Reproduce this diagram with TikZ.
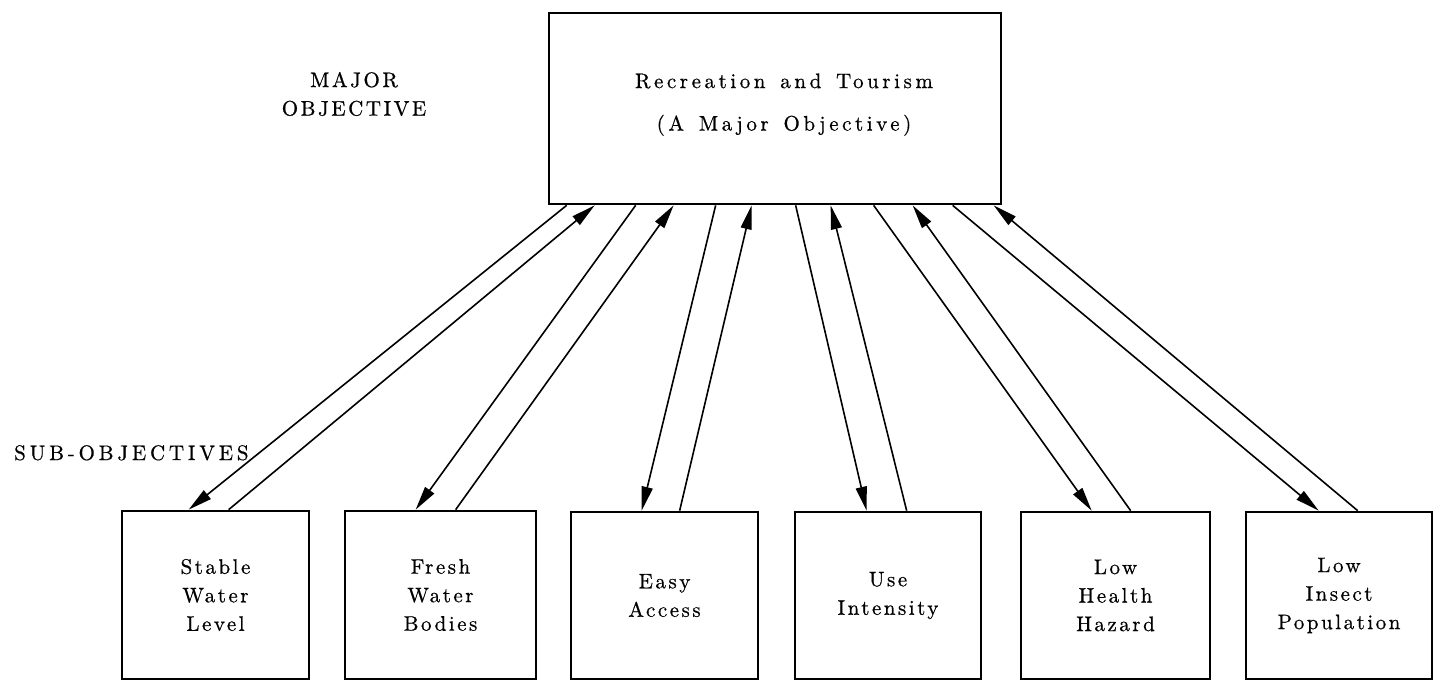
\documentclass[tikz,border=0pt]{standalone}
\usepackage{fontspec}
\usetikzlibrary{arrows.meta}
\newfontfamily\twfam{lmroman10-regular.otf}[LetterSpace=12,FakeBold=0.6]
\newfontfamily\twbfam{lmroman10-regular.otf}[LetterSpace=17,WordSpace=1.4,FakeBold=0.6]
\newfontfamily\twsfam{lmroman10-regular.otf}[LetterSpace=18,FakeBold=0.6]
\newcommand\tyfont{\twfam\fontsize{21}{28.5}\selectfont}
\newcommand\tybfont{\twbfam\fontsize{21}{28.5}\selectfont}
\newcommand\tysfont{\twsfam\fontsize{21}{28.5}\selectfont}
\tikzset{
  box/.style={draw, line width=2.7pt, inner sep=0pt, align=center, font=\tyfont},
  lbl/.style={inner sep=0pt, align=center, font=\tyfont},
  conn/.style={line width=1.6pt, -{Triangle[length=24pt,width=11pt]}},
}
\begin{document}
\begin{tikzpicture}[x=1pt,y=-1pt]
\useasboundingbox (0,0) rectangle (1434,686);
\node[box, font=\tybfont, minimum width=452pt, minimum height=191pt] (top) at (775,108.5)
  {\hspace*{18pt}Recreation and Tourism\\[14pt]\hspace*{18pt}(A Major Objective)\rule[-13pt]{0pt}{0pt}};
\node[box, minimum width=187pt, minimum height=168pt] (s1) at (215.5,595) {Stable\\Water\\Level};
\node[box, minimum width=191pt, minimum height=168pt] (s2) at (440.5,595) {Fresh\\Water\\Bodies};
\node[box, minimum width=187pt, minimum height=167pt] (s3) at (664.5,595.5) {Easy\\Access};
\node[box, minimum width=186pt, minimum height=167pt] (s4) at (888,595.5) {Use\\Intensity};
\node[box, minimum width=189pt, minimum height=167pt] (s5) at (1115.5,595.5) {Low\\Health\\Hazard};
\node[box, minimum width=186pt, minimum height=167pt] (s6) at (1339,595.5) {Low\\Insect\\Population};
\node[lbl] (maj) at (354,94) {MAJOR\\OBJECTIVE};
\node[lbl, font=\tysfont, anchor=base west] (sub) at (14,460) {SUB-OBJECTIVES};
% pair 1
\draw[conn] ([xshift=19pt]top.south west) -- ([xshift=68pt]s1.north west);
\draw[conn] ([xshift=108pt]s1.north west) -- ([xshift=47pt]top.south west);
% pair 2
\draw[conn] ([xshift=88pt]top.south west) -- ([xshift=72pt]s2.north west);
\draw[conn] ([xshift=112pt]s2.north west) -- ([xshift=126pt]top.south west);
% pair 3
\draw[conn] ([xshift=168pt]top.south west) -- ([xshift=72pt]s3.north west);
\draw[conn] ([xshift=110pt]s3.north west) -- ([xshift=204pt]top.south west);
% pair 4
\draw[conn] ([xshift=248pt]top.south west) -- ([xshift=73pt]s4.north west);
\draw[conn] ([xshift=113pt]s4.north west) -- ([xshift=283pt]top.south west);
% pair 5
\draw[conn] ([xshift=326pt]top.south west) -- ([xshift=72pt]s5.north west);
\draw[conn] ([xshift=111pt]s5.north west) -- ([xshift=365pt]top.south west);
% pair 6
\draw[conn] ([xshift=405pt]top.south west) -- ([xshift=74pt]s6.north west);
\draw[conn] ([xshift=113pt]s6.north west) -- ([xshift=446pt]top.south west);
\end{tikzpicture}
\end{document}
